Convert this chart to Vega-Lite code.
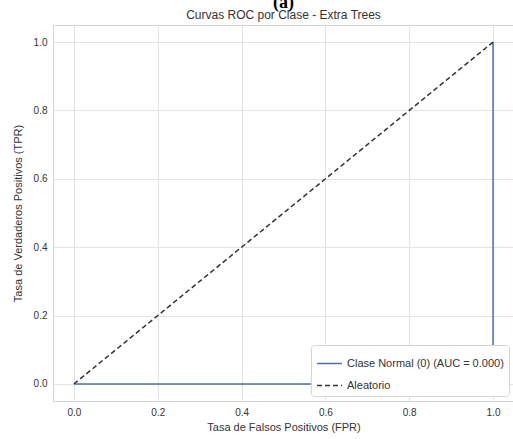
{
  "$schema": "https://vega.github.io/schema/vega-lite/v6.json",
  "width": 461,
  "height": 376,
  "autosize": {"type": "none"},
  "padding": {"left": 53, "top": 25, "right": 0, "bottom": 38},
  "background": "white",
  "config": {
    "font": "Liberation Sans",
    "view": {"stroke": "#d5d5d5", "strokeWidth": 1},
    "axis": {
      "domain": false,
      "ticks": false,
      "gridColor": "#e3e3e3",
      "gridWidth": 1,
      "labelFontSize": 10,
      "labelColor": "#333333",
      "titleFontSize": 11,
      "titleFontWeight": "normal",
      "titleColor": "#333333",
      "labelPadding": 6
    }
  },
  "title": {
    "text": "(a)",
    "font": "Liberation Serif",
    "fontSize": 18,
    "fontWeight": "bold",
    "color": "#000000",
    "subtitle": "Curvas ROC por Clase - Extra Trees",
    "subtitleFont": "Liberation Sans",
    "subtitleFontSize": 12,
    "subtitleColor": "#333333",
    "subtitlePadding": -2,
    "anchor": "middle",
    "offset": 4
  },
  "data": {
    "values": [
      {"serie": "Clase Normal (0) (AUC = 0.000)", "orden": 0, "fpr": 0, "tpr": 0},
      {"serie": "Clase Normal (0) (AUC = 0.000)", "orden": 1, "fpr": 1, "tpr": 0},
      {"serie": "Clase Normal (0) (AUC = 0.000)", "orden": 2, "fpr": 1, "tpr": 1},
      {"serie": "Aleatorio", "orden": 0, "fpr": 0, "tpr": 0},
      {"serie": "Aleatorio", "orden": 1, "fpr": 1, "tpr": 1}
    ]
  },
  "mark": {"type": "line", "strokeWidth": 1.5},
  "encoding": {
    "x": {
      "field": "fpr", "type": "quantitative",
      "scale": {"domain": [-0.05, 1.05], "nice": false, "zero": false},
      "axis": {"values": [0, 0.2, 0.4, 0.6, 0.8, 1.0], "format": ".1f", "title": "Tasa de Falsos Positivos (FPR)", "titlePadding": 4}
    },
    "y": {
      "field": "tpr", "type": "quantitative",
      "scale": {"domain": [-0.05, 1.05], "nice": false, "zero": false},
      "axis": {"values": [0, 0.2, 0.4, 0.6, 0.8, 1.0], "format": ".1f", "title": "Tasa de Verdaderos Positivos (TPR)", "titlePadding": 10}
    },
    "order": {"field": "orden", "type": "quantitative"},
    "color": {
      "field": "serie", "type": "nominal",
      "scale": {"domain": ["Clase Normal (0) (AUC = 0.000)", "Aleatorio"], "range": ["#4c72b0", "#333333"]},
      "legend": {
        "title": null,
        "orient": "bottom-right",
        "offset": 5,
        "symbolType": "stroke",
        "symbolSize": 625,
        "symbolStrokeWidth": 1.5,
        "labelFontSize": 11,
        "labelColor": "#333333",
        "fillColor": "white",
        "strokeColor": "#d5d5d5",
        "padding": 5,
        "cornerRadius": 3,
        "rowPadding": 3
      }
    },
    "strokeDash": {
      "field": "serie", "type": "nominal",
      "scale": {"domain": ["Clase Normal (0) (AUC = 0.000)", "Aleatorio"], "range": [[1, 0], [5, 3]]},
      "legend": {
        "title": null,
        "orient": "bottom-right",
        "offset": 5,
        "symbolType": "stroke",
        "symbolSize": 625,
        "symbolStrokeWidth": 1.5,
        "labelFontSize": 11,
        "labelColor": "#333333",
        "fillColor": "white",
        "strokeColor": "#d5d5d5",
        "padding": 5,
        "cornerRadius": 3,
        "rowPadding": 3
      }
    }
  }
}
